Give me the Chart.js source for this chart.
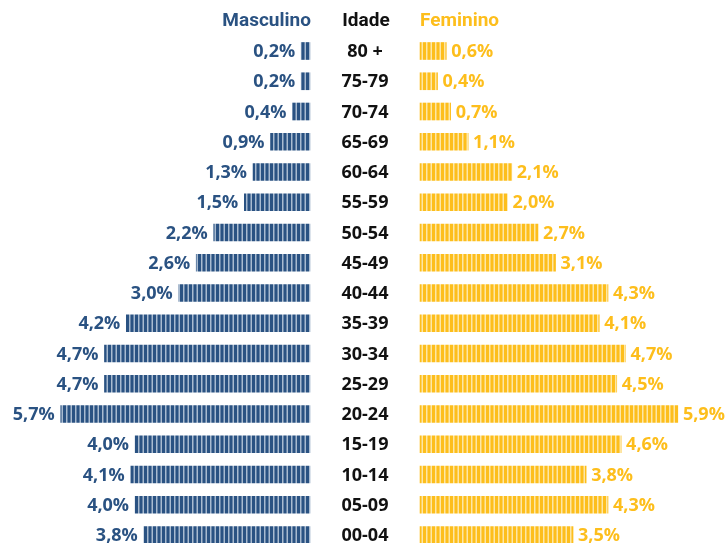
<!DOCTYPE html>
<html>
<head>
<meta charset="utf-8">
<script src="https://cdn.jsdelivr.net/npm/chart.js@4/dist/chart.umd.min.js"></script>
<style>
  html, body { margin: 0; padding: 0; background: #fff; }
  #wrap { width: 726px; height: 543px; position: relative; }
</style>
</head>
<body>
<div id="wrap"><canvas id="pyramid"></canvas></div>
<script>
// Faixas etárias e percentuais por sexo
const ageGroups = ['80 +', '75-79', '70-74', '65-69', '60-64', '55-59', '50-54', '45-49', '40-44',
                   '35-39', '30-34', '25-29', '20-24', '15-19', '10-14', '05-09', '00-04'];
const maleValues = [0.2, 0.2, 0.4, 0.9, 1.3, 1.5, 2.2, 2.6, 3.0, 4.2, 4.7, 4.7, 5.7, 4.0, 4.1, 4.0, 3.8];
const femaleValues = [0.6, 0.4, 0.7, 1.1, 2.1, 2.0, 2.7, 3.1, 4.3, 4.1, 4.7, 4.5, 5.9, 4.6, 3.8, 4.3, 3.5];
const headers = ['Masculino', 'Idade', 'Feminino'];

const BLUE = '#2a5282';
const YELLOW = '#fdbe1c';
const HALF_GAP = 1.26; // espaço central para as idades, em unidades do eixo
const HEAD_FONT = 'bold 19px Roboto, sans-serif';
const TEXT_FONT = 'bold 18px "Open Sans", Roboto, sans-serif';

function stripes(color, light) {
  const c = document.createElement('canvas');
  c.width = 9; c.height = 4;
  const g = c.getContext('2d');
  g.fillStyle = light;
  g.fillRect(0, 0, 9, 4);
  g.fillStyle = color;
  g.fillRect(0, 0, 3, 4);
  g.fillRect(4.5, 0, 3, 4);
  return g.createPattern(c, 'repeat');
}

const fmt = v => v.toFixed(1).replace('.', ',') + '%';

const labelsPlugin = {
  id: 'pyramidLabels',
  afterDatasetsDraw(chart) {
    const { ctx, scales: { x, y } } = chart;
    const cx = x.getPixelForValue(0);
    const mEdge = x.getPixelForValue(-HALF_GAP);
    const fEdge = x.getPixelForValue(HALF_GAP);
    ctx.save();
    ctx.textBaseline = 'middle';

    // cabeçalhos
    ctx.font = HEAD_FONT;
    ctx.fillStyle = BLUE; ctx.textAlign = 'right';
    ctx.fillText(headers[0], mEdge + 1, 21);
    ctx.fillStyle = '#111'; ctx.textAlign = 'center';
    ctx.fillText(headers[1], cx + 1, 21);
    ctx.fillStyle = YELLOW; ctx.textAlign = 'left';
    ctx.fillText(headers[2], fEdge, 21);

    ctx.font = TEXT_FONT;
    ageGroups.forEach((age, i) => {
      const py = y.getPixelForValue(i) + 1;
      ctx.fillStyle = '#111'; ctx.textAlign = 'center';
      ctx.fillText(age, cx, py);
      ctx.fillStyle = BLUE; ctx.textAlign = 'right';
      ctx.fillText(fmt(maleValues[i]), x.getPixelForValue(-HALF_GAP - maleValues[i]) - 6, py);
      ctx.fillStyle = YELLOW; ctx.textAlign = 'left';
      ctx.fillText(fmt(femaleValues[i]), x.getPixelForValue(HALF_GAP + femaleValues[i]) + 5, py);
    });
    ctx.restore();
  }
};

new Chart(document.getElementById('pyramid'), {
  type: 'bar',
  data: {
    labels: ageGroups,
    datasets: [
      {
        label: headers[0],
        data: maleValues.map(v => [-HALF_GAP - v, -HALF_GAP]),
        backgroundColor: stripes(BLUE, '#a9bbd0'),
        barThickness: 17,
        clip: false
      },
      {
        label: headers[2],
        data: femaleValues.map(v => [HALF_GAP, HALF_GAP + v]),
        backgroundColor: stripes(YELLOW, '#fde7a6'),
        barThickness: 17,
        clip: false
      }
    ]
  },
  options: {
    indexAxis: 'y',
    responsive: true,
    maintainAspectRatio: false,
    animation: false,
    layout: { padding: { top: 51, bottom: 8, left: 0, right: 0 } },
    scales: {
      x: { display: false, min: -8.35, max: 8.26 },
      y: { display: false, offset: false, stacked: true, grid: { display: false } }
    },
    plugins: {
      legend: { display: false },
      tooltip: { enabled: false }
    }
  },
  plugins: [labelsPlugin]
});
</script>
</body>
</html>
